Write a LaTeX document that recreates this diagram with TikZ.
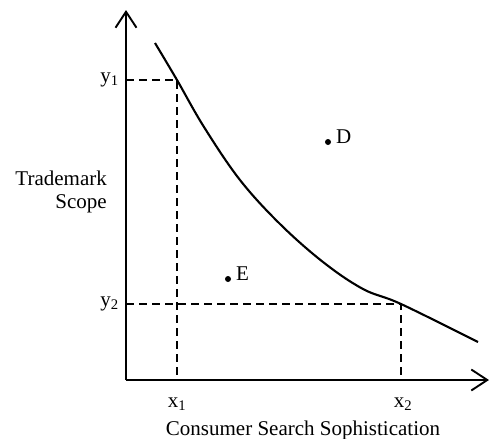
\documentclass[tikz,border=0pt]{standalone}
\usepackage{fontspec}
\setmainfont{Liberation Serif}
\usetikzlibrary{arrows.meta}
\begin{document}
\begin{tikzpicture}[x=1pt,y=-1pt,
  axis/.style={line width=2.1pt,-{Straight Barb[length=16pt,width=21pt,line width=1.9pt]}},
  guide/.style={line width=1.9pt,dash pattern=on 8pt off 5pt},
  curveline/.style={line width=2.1pt},
  lbl/.style={inner sep=0pt,font=\fontsize{21}{24}\selectfont},
  dot/.style={circle,fill=black,inner sep=0pt,minimum size=6pt}]
\useasboundingbox (0,0) rectangle (490,439);
% axes
\coordinate (O) at (126,380);
\coordinate (ytop) at (126,10);
\coordinate (xend) at (489,380);
\draw[axis] (O) -- (ytop);
\draw[axis] (O) -- (xend);
% guide coordinates
\coordinate (y1) at (126,80);
\coordinate (p1) at (177,80);
\coordinate (x1) at (177,380);
\coordinate (y2) at (126,304);
\coordinate (p2) at (401,304);
\coordinate (x2) at (401,380);
\draw[guide] (y1) -- (p1) -- (x1);
\draw[guide] (y2) -- (p2) -- (x2);
% curve
\draw[curveline] plot[smooth,tension=0.6] coordinates {(155,43) (177,80) (204,127) (240,180) (280,224) (323,262) (363,289) (401,304) (478,342)};
% points
\node[dot] (D) at (328,142) {};
\node[dot] (E) at (228,279) {};
\node[lbl,anchor=west] (Dl) at (336,137) {D};
\node[lbl,anchor=west] (El) at (236,274) {E};
% axis labels
\node[lbl,anchor=east] (y1l) at (119,80) {y\textsubscript{1}};
\node[lbl,anchor=east] (y2l) at (119,304) {y\textsubscript{2}};
\node[lbl,anchor=base] (x1l) at (177,407) {x\textsubscript{1}};
\node[lbl,anchor=base] (x2l) at (403,407) {x\textsubscript{2}};
\node[lbl,anchor=base] (xt) at (303,435) {Consumer Search Sophistication};
\node[lbl,anchor=base east] (yt1) at (107,185) {Trademark};
\node[lbl,anchor=base east] (yt2) at (107,208) {Scope};
\end{tikzpicture}
\end{document}
